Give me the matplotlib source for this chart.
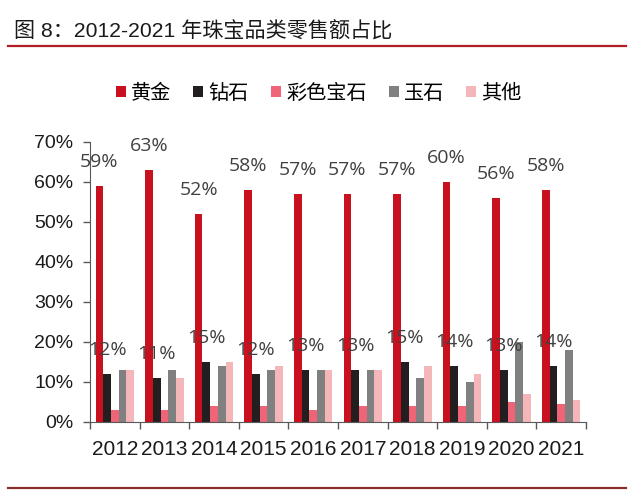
import matplotlib
matplotlib.use("Agg")
import matplotlib.pyplot as plt
from matplotlib.lines import Line2D
import numpy as np

plt.rcParams['font.family'] = ['Liberation Sans', 'Noto Sans CJK SC', 'DejaVu Sans']

years = ['2012', '2013', '2014', '2015', '2016', '2017', '2018', '2019', '2020', '2021']
gold = [59, 63, 52, 58, 57, 57, 57, 60, 56, 58]
diamond = [12, 11, 15, 12, 13, 13, 15, 14, 13, 14]
color_gem = [3, 3, 4, 4, 3, 4, 4, 4, 5, 4.5]
jade = [13, 13, 14, 13, 13, 13, 11, 10, 20, 18]
other = [13, 11, 15, 14, 13, 13, 14, 12, 7, 5.5]

names = ['黄金', '钻石', '彩色宝石', '玉石', '其他']
colors = ['#C8101E', '#231F20', '#F06478', '#808080', '#F4B6B9']

fig = plt.figure(figsize=(6.4, 4.93), dpi=100)
ax = fig.add_axes([90 / 640, 71 / 493, 496 / 640, 280 / 493])

x = np.arange(len(years))
w = 0.155
series = [gold, diamond, color_gem, jade, other]
bars = []
for i, (vals, c) in enumerate(zip(series, colors)):
    b = ax.bar(x + (i - 2) * w, np.array(vals) / 100, width=w, color=c, linewidth=0)
    bars.append(b)

# data labels on gold and diamond
for i, vals in enumerate([gold, diamond]):
    for xi, v in zip(x, vals):
        ax.annotate(f'{v}%', (xi + (i - 2) * w, v / 100), xytext=(0, 24),
                    textcoords='offset pixels', ha='center', va='center',
                    fontsize=14, color='#404040', family='Open Sans')

ax.set_xlim(-0.5, len(years) - 0.5)
ax.set_ylim(0, 0.7)
ax.set_yticks(np.arange(0, 0.71, 0.1))
ax.set_yticklabels([f'{int(round(t * 100))}%' for t in np.arange(0, 0.71, 0.1)])
ax.tick_params(axis='y', labelsize=14, length=5, width=1, color='#595959', pad=7,
               labelcolor='#1a1a1a')

ax.set_xticks(x)
ax.set_xticklabels(years)
ax.set_xticks(np.arange(-0.5, len(years), 1), minor=True)
ax.tick_params(axis='x', which='major', length=0, labelsize=15, pad=13, labelcolor='#1a1a1a')
ax.tick_params(axis='x', which='minor', length=5, width=1, color='#595959')

for s in ['top', 'right']:
    ax.spines[s].set_visible(False)
ax.spines['left'].set_color('#595959')
ax.spines['bottom'].set_color('#595959')

fig.legend(bars, names, loc='center', bbox_to_anchor=(0.498, 0.811), ncol=5,
           frameon=False, prop={'family': 'Noto Sans CJK SC', 'size': 14.5},
           handlelength=0.5, handleheight=0.5, handletextpad=0.25, columnspacing=1.1)

fig.text(14 / 640, 1 - 31 / 493, '图 8：2012-2021 年珠宝品类零售额占比', fontsize=15.2,
         va='center', ha='left', color='#1a1a1a')

fig.add_artist(Line2D([8 / 640, 626 / 640], [1 - 46 / 493, 1 - 46 / 493],
                      color='#B01E23', linewidth=1.6))
fig.add_artist(Line2D([8 / 640, 626 / 640], [1 - 488 / 493, 1 - 488 / 493],
                      color='#8B2E2E', linewidth=1.6))

fig.savefig('out.png', dpi=100)
